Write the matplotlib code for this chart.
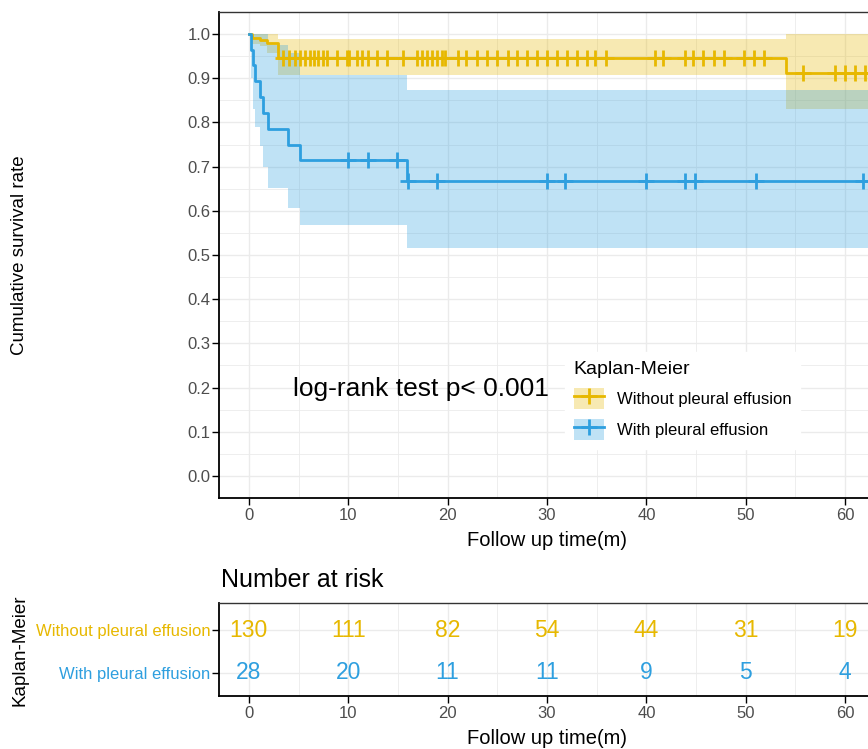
import numpy as np
import matplotlib
matplotlib.use("Agg")
import matplotlib.pyplot as plt
from matplotlib.ticker import MultipleLocator
from matplotlib.patches import Patch
from matplotlib.lines import Line2D

plt.rcParams['font.family'] = ['Liberation Sans', 'DejaVu Sans']

yellow = "#E7B800"
blue = "#2E9FDF"
grid_col = "#EBEBEB"
tick_col = "#4D4D4D"

# Without pleural effusion (KM steps + 95% CI)
yel_time = [0, 0.3, 1.1, 1.8, 2.95, 54.0, 63]
yel_surv = [1.0, 0.992, 0.987, 0.980, 0.945, 0.912, 0.912]
yel_lower = [1.0, 0.978, 0.972, 0.958, 0.908, 0.830, 0.830]
yel_upper = [1.0, 1.0, 1.0, 1.0, 0.989, 1.0, 1.0]
yel_censor = [3.45, 4.06, 4.63, 5.14, 5.64, 6.14, 6.55, 6.98, 7.48, 7.89, 8.83, 9.84,
              10.1, 10.85, 11.35, 12.0, 12.86, 13.87, 15.5, 16.9, 17.4, 17.9, 18.4,
              18.9, 19.4, 19.7, 21.0, 21.9, 23.0, 24.0, 25.0, 26.1, 27.0, 28.0, 29.0,
              30.0, 31.0, 32.0, 33.0, 34.0, 34.8, 35.9, 40.9, 41.7, 43.9, 44.7, 45.7,
              46.8, 47.8, 49.8, 50.8, 51.8, 55.8, 59.0, 60.0, 61.0, 62.0]

# With pleural effusion
blu_time = [0, 0.2, 0.4, 0.6, 1.1, 1.45, 1.95, 3.96, 5.1, 15.95, 63]
blu_surv = [1.0, 0.964, 0.929, 0.893, 0.857, 0.821, 0.786, 0.750, 0.714, 0.667, 0.667]
blu_lower = [1.0, 0.90, 0.83, 0.79, 0.746, 0.70, 0.652, 0.607, 0.569, 0.516, 0.516]
blu_upper = [1.0, 1.0, 1.0, 1.0, 1.0, 1.0, 0.975, 0.957, 0.908, 0.874, 0.874]
blu_censor = [10.0, 12.0, 14.9, 16.0, 18.9, 30.0, 31.8, 40.0, 43.9, 44.9, 51.0, 61.8]

risk_times = [0, 10, 20, 30, 40, 50, 60]
risk_without = [130, 111, 82, 54, 44, 31, 19]
risk_with = [28, 20, 11, 11, 9, 5, 4]

labels = ["Without pleural effusion", "With pleural effusion"]


def censor_y(times, surv, cens):
    idx = np.searchsorted(times, cens, side='right') - 1
    return np.array(surv)[idx]


W, H = 868, 749
fig = plt.figure(figsize=(W / 100, H / 100), dpi=100)

# axes placed in pixels (right edge runs past the picture, as in the source)
L, R = 219, 875
ax = fig.add_axes([L / W, 1 - 498 / H, (R - L) / W, (498 - 12) / H])
ax2 = fig.add_axes([L / W, 1 - 696 / H, (R - L) / W, (696 - 603) / H])

groups = [(yel_time, yel_surv, yel_lower, yel_upper, yel_censor, yellow),
          (blu_time, blu_surv, blu_lower, blu_upper, blu_censor, blue)]
for t, s, lo, up, cens, col in groups:
    ax.fill_between(t, lo, up, step='post', color=col, alpha=0.3, lw=0, zorder=2)
for t, s, lo, up, cens, col in groups:
    ax.step(t, s, where='post', color=col, lw=2, zorder=3)
    ax.plot(cens, censor_y(t, s, cens), ls='none', marker='+', ms=11, mew=2,
            color=col, zorder=4)

ax.set_xlim(-3, 63)
ax.set_ylim(-0.05, 1.05)
ax.set_yticks(np.arange(0, 1.01, 0.1))
ax.set_yticklabels(["%.1f" % v for v in np.arange(0, 1.01, 0.1)])
ax.set_xticks(range(0, 61, 10))
ax.xaxis.set_minor_locator(MultipleLocator(5))
ax.yaxis.set_minor_locator(MultipleLocator(0.05))
ax.grid(which='major', color=grid_col, lw=1.0, zorder=0)
ax.grid(which='minor', color=grid_col, lw=0.6, zorder=0)
ax.set_axisbelow(True)
ax.tick_params(which='major', length=5, width=1, color='black', labelsize=12,
               labelcolor=tick_col, pad=2)
ax.tick_params(axis='y', pad=1)
ax.tick_params(which='minor', length=0)
for sp in ax.spines.values():
    sp.set_color('#333333')
    sp.set_linewidth(1.0)
ax.spines['left'].set_color('black')
ax.spines['bottom'].set_color('black')
ax.spines['left'].set_linewidth(1.3)
ax.spines['bottom'].set_linewidth(1.3)

ax.text(4.4, 0.197, "log-rank test p< 0.001", fontsize=19, ha='left', va='center',
        zorder=5)

handles = [(Patch(facecolor=c, alpha=0.3, lw=0),
            Line2D([], [], color=c, lw=2, marker='+', ms=11, mew=2))
           for c in (yellow, blue)]
leg = ax.legend(handles, labels, title="Kaplan-Meier", loc='upper left',
                bbox_to_anchor=(557 / W, 1 - 344 / H), bbox_transform=fig.transFigure,
                fontsize=12, title_fontsize=14, frameon=True, fancybox=False,
                edgecolor='white', facecolor='white', framealpha=1,
                handlelength=1.8, handleheight=1.6, labelspacing=0.6,
                handletextpad=0.8, borderpad=0.5, alignment='left')
leg.set_zorder(6)

fig.text((L + R) / 2 / W, 1 - 541 / H, "Follow up time(m)", fontsize=14.5,
         ha='center', va='center')
fig.text(20 / W, 1 - 255 / H, "Cumulative survival rate", fontsize=13.5,
         rotation=90, ha='center', va='center')

# risk table
ax2.set_xlim(-3, 63)
ax2.set_ylim(0.45, 2.65)
for x, n1, n2 in zip(risk_times, risk_without, risk_with):
    ax2.text(x, 2, str(n1), color=yellow, fontsize=16.5, ha='center', va='center')
    ax2.text(x, 1, str(n2), color=blue, fontsize=16.5, ha='center', va='center')
ax2.set_xticks(risk_times)
ax2.xaxis.set_minor_locator(MultipleLocator(5))
ax2.set_yticks([2, 1])
ax2.set_yticklabels(labels, fontsize=12)
for lab, c in zip(ax2.get_yticklabels(), (yellow, blue)):
    lab.set_color(c)
ax2.grid(which='major', color=grid_col, lw=1.0, zorder=0)
ax2.grid(which='minor', axis='x', color=grid_col, lw=0.6, zorder=0)
ax2.set_axisbelow(True)
ax2.tick_params(which='major', length=5, width=1, color='black', pad=2)
ax2.tick_params(axis='x', labelsize=12, labelcolor=tick_col)
ax2.tick_params(axis='y', pad=1)
ax2.tick_params(which='minor', length=0)
for sp in ax2.spines.values():
    sp.set_color('#333333')
    sp.set_linewidth(1.0)
ax2.spines['left'].set_color('black')
ax2.spines['bottom'].set_color('black')
ax2.spines['left'].set_linewidth(1.3)
ax2.spines['bottom'].set_linewidth(1.3)

fig.text(221 / W, 1 - 580 / H, "Number at risk", fontsize=18, ha='left', va='center')
fig.text((L + R) / 2 / W, 1 - 738 / H, "Follow up time(m)", fontsize=14.5,
         ha='center', va='center')
fig.text(20 / W, 1 - 650 / H, "Kaplan-Meier", fontsize=13.5, rotation=90,
         ha='center', va='center')

fig.savefig("out.png", dpi=100)
